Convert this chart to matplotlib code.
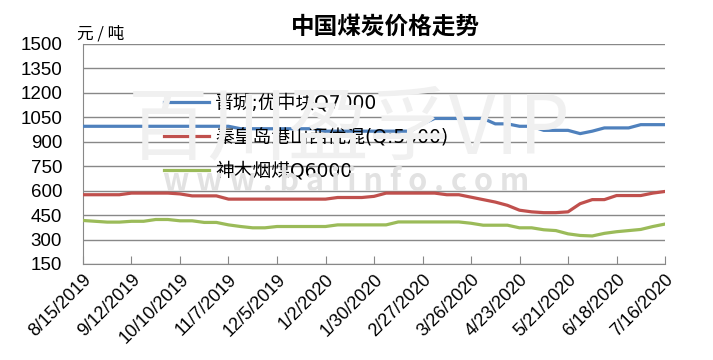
import matplotlib.pyplot as plt
import pandas as pd

plt.rcParams['font.family'] = ['Noto Sans CJK SC', 'DejaVu Sans']

# weekly prices, 8/15/2019 .. 7/16/2020 (yuan/ton)
weeks = pd.date_range('2019-08-15', periods=49, freq='7D')

jincheng = ([995] * 13 + [980] * 7 + [965] * 8 + [1010] + [1043] * 5 +
            [1010] * 2 + [995] * 2 + [970] * 3 + [950] + [965] +
            [985] * 3 + [1005] * 3)
qinhuangdao = ([575] * 4 + [585] * 4 + [580] + [568] * 3 + [548] * 9 +
               [558] * 3 + [565] + [585] * 5 + [575] * 2 + [560, 545, 530,
               510, 480, 470, 465, 465, 470, 520, 545, 545] +
               [570] * 3 + [585, 595])
shenmu = ([417, 412, 407, 407, 412, 412, 423, 423, 415, 415, 405, 405,
           390, 380, 372, 372] + [380] * 5 + [390] * 5 + [408] * 6 +
          [400, 388, 388, 388, 372, 372, 360, 355, 335, 325, 322, 338,
           348, 355, 362, 380, 395])

series_names = ['晋城;优中块Q7000', '秦皇岛港山西优混(Q:5500)', '神木烟煤Q6000']
colors = ['#4F81BD', '#C0504D', '#9BBB59']

tick_dates = pd.date_range('2019-08-15', '2020-07-16', freq='28D')
tick_labels = [f'{d.month}/{d.day}/{d.year}' for d in tick_dates]
y_ticks = list(range(150, 1501, 150))


def main():
    fig = plt.figure(figsize=(7.13, 3.6), dpi=100)
    ax = fig.add_axes([0.1164, 0.2667, 0.8163, 0.6111])

    # faint watermark behind the plot
    fig.text(0.49, 0.64, '百川盈孚VIP', fontsize=58, color='#f0f0f0',
             ha='center', va='center', zorder=0)
    fig.text(0.485, 0.495, 'w w w . b a i i n f o . c o m', fontsize=22,
             color='#e2e2e2', ha='center', va='center', fontweight='bold',
             zorder=0)

    for vals, name, c in zip([jincheng, qinhuangdao, shenmu], series_names, colors):
        ax.plot(weeks, vals, color=c, lw=2.3, label=name, zorder=3)

    ax.set_ylim(150, 1500)
    ax.set_yticks(y_ticks)
    ax.set_xlim(tick_dates[0], tick_dates[-1])
    ax.set_xticks(tick_dates)
    ax.set_xticklabels(tick_labels, rotation=45, ha='right',
                       rotation_mode='anchor', fontsize=13,
                       family=['Liberation Sans', 'DejaVu Sans'])
    for lab in ax.get_yticklabels():
        lab.set_family(['Liberation Sans', 'DejaVu Sans'])
        lab.set_fontsize(13.5)

    ax.yaxis.grid(True, color='#888888', lw=1)
    ax.set_axisbelow(True)
    ax.patch.set_alpha(0)
    for s in ['top', 'right']:
        ax.spines[s].set_visible(False)
    for s in ['left', 'bottom']:
        ax.spines[s].set_color('#888888')
    ax.tick_params(axis='y', length=0, pad=15)
    ax.tick_params(axis='x', direction='in', length=6, color='#888888', pad=5)

    leg = ax.legend(loc='upper left', bbox_to_anchor=(0.14, 0.775),
                    frameon=False, fontsize=13.5, handlelength=2.4,
                    labelspacing=0.8, handletextpad=0.3, borderpad=0,
                    borderaxespad=0)
    for t in leg.get_texts():
        t.set_family(['DejaVu Sans', 'Noto Sans CJK SC'])

    fig.text(0.54, 0.925, '中国煤炭价格走势', fontsize=17, fontweight='bold',
             ha='center', va='center')
    fig.text(0.108, 0.905, '元 / 吨', fontsize=12, ha='left', va='center')

    fig.savefig('out.png', dpi=100)


if __name__ == '__main__':
    main()
